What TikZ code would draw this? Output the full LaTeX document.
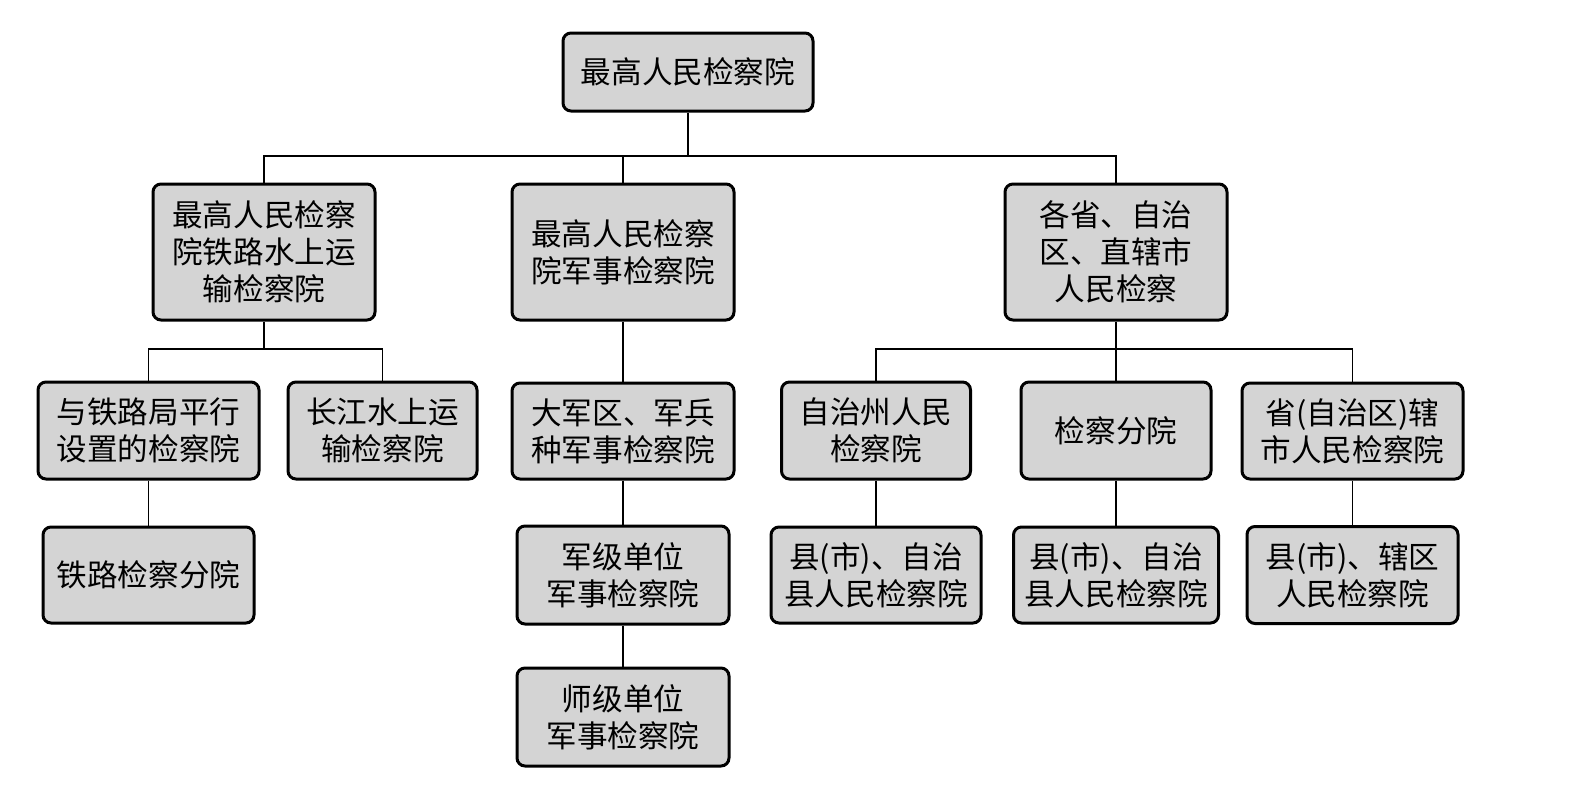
\documentclass[tikz,border=0pt]{standalone}
\usepackage{fontspec}
\newfontfamily\cjk{Noto Sans CJK SC}
\definecolor{boxgray}{RGB}{212,212,212}
\begin{document}
\begin{tikzpicture}[x=0.5pt, y=-0.5pt,
  orgbox/.style={draw, line width=1.5pt, rounded corners=4pt, fill=boxgray, align=center, inner sep=0pt,
    font=\cjk\fontsize{15.3}{18.5}\selectfont},
  link/.style={line width=0.75pt}]

\useasboundingbox (0,0) rectangle (1579,787);

% level 0
\node[orgbox, minimum width=125pt, minimum height=39pt] (top) at (688,72) {最高人民检察院};

% level 1
\node[orgbox, minimum width=111pt, minimum height=68pt] (rail) at (264,252) {最高人民检察\\院铁路水上运\\输检察院};
\node[orgbox, minimum width=111pt, minimum height=68pt] (mil) at (623,252) {最高人民检察\\院军事检察院};
\node[orgbox, minimum width=111pt, minimum height=68pt] (prov) at (1116,252) {各省、自治\\区、直辖市\\人民检察};

% level 2
\node[orgbox, minimum width=110.5pt, minimum height=48.5pt] (railA) at (148.5,430.5) {与铁路局平行\\设置的检察院};
\node[orgbox, minimum width=94.5pt, minimum height=48.5pt] (railB) at (382.5,430.5) {长江水上运\\输检察院};
\node[orgbox, minimum width=111pt, minimum height=48pt] (milA) at (623,431) {大军区、军兵\\种军事检察院};
\node[orgbox, minimum width=94.5pt, minimum height=48.5pt] (provA) at (876,430.5) {自治州人民\\检察院};
\node[orgbox, minimum width=95pt, minimum height=48.5pt] (provB) at (1116,430.5) {检察分院};
\node[orgbox, minimum width=110.5pt, minimum height=48pt] (provC) at (1352.5,431) {省(自治区)辖\\市人民检察院};

% level 3
\node[orgbox, minimum width=105.5pt, minimum height=48pt] (railA1) at (148.5,575) {铁路检察分院};
\node[orgbox, minimum width=106pt, minimum height=49pt] (milA1) at (623,575) {军级单位\\军事检察院};
\node[orgbox, minimum width=105pt, minimum height=48pt] (provA1) at (876,575) {县(市)、自治\\县人民检察院};
\node[orgbox, minimum width=102.5pt, minimum height=48pt] (provB1) at (1116,575) {县(市)、自治\\县人民检察院};
\node[orgbox, minimum width=105.5pt, minimum height=48.5pt] (provC1) at (1352.5,575) {县(市)、辖区\\人民检察院};

% level 4
\node[orgbox, minimum width=106pt, minimum height=49pt] (milA2) at (623,717) {师级单位\\军事检察院};

% buses
\coordinate (bus0) at (688,156);
\coordinate (busR) at (264,349);
\coordinate (busP) at (1116,349);

\draw[link] (top.south) -- (bus0);
\draw[link] (rail.north) |- (bus0) -| (prov.north);
\draw[link] (mil.north) -- (mil.north |- bus0);

\draw[link] (rail.south) -- (busR);
\draw[link] (railA.north) |- (busR) -| (railB.north);
\draw[link] (railA.south) -- (railA1.north);

\draw[link] (mil.south) -- (milA.north);
\draw[link] (milA.south) -- (milA1.north);
\draw[link] (milA1.south) -- (milA2.north);

\draw[link] (prov.south) -- (busP);
\draw[link] (provA.north) |- (busP) -| (provC.north);
\draw[link] (provB.north) -- (busP);
\draw[link] (provA.south) -- (provA1.north);
\draw[link] (provB.south) -- (provB1.north);
\draw[link] (provC.south) -- (provC1.north);
\end{tikzpicture}
\end{document}
